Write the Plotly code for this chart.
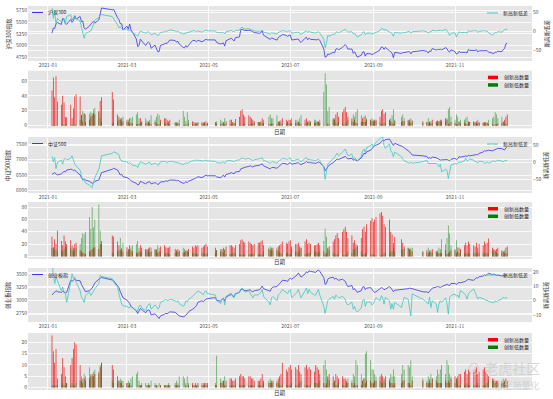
import pandas as pd
import plotly.graph_objects as go

# ---------------- calendar ----------------
HOLIDAYS = ["2021-02-11", "2021-02-12", "2021-02-15", "2021-02-16", "2021-02-17",
            "2021-04-05", "2021-05-03", "2021-05-04", "2021-05-05", "2021-06-14",
            "2021-09-20", "2021-09-21", "2021-10-01", "2021-10-04", "2021-10-05",
            "2021-10-06", "2021-10-07"]
trade_dates = [d for d in pd.bdate_range("2021-01-04", "2021-12-10")
               if d.strftime("%Y-%m-%d") not in HOLIDAYS]

tick_vals = ["2021-01-01", "2021-03-01", "2021-05-01", "2021-07-01", "2021-09-01", "2021-11-01"]
tick_text = ["2021-01", "2021-03", "2021-05", "2021-07", "2021-09", "2021-11"]

# ---------------- 沪深300 ----------------
hs300_close = [
    5267, 5376, 5368, 5465, 5495, 5454, 5587, 5553, 5472, 5458, 5563, 5497, 5534, 5642, 5569, 5625, 5512, 5528, 5380, 5351,
    5418, 5467, 5497, 5520, 5482, 5552, 5703, 5807, 5768, 5778, 5597, 5560, 5470, 5469, 5336,
    5418, 5353, 5462, 5337, 5297, 5142, 4978, 5001, 5140, 5102, 5000, 5052, 5077, 5051, 4942, 5011, 4954, 4869, 4872, 5003, 5036, 5052, 5048,
    5078, 5120, 5111, 5074, 5091, 5035, 4960, 4951, 5000, 4966, 5008, 5108, 5112, 5106, 5082, 5116, 5082, 5104, 5109, 5135, 5123,
    5122, 5066, 5034, 5046, 5060, 4990, 5105, 5147, 5155, 5130, 5100, 5168, 5188, 5338, 5351, 5341, 5321, 5331,
    5328, 5313, 5298, 5280, 5267, 5258, 5277, 5315, 5224, 5160, 5133, 5164, 5155, 5118, 5168, 5200, 5206, 5239, 5219, 5196, 5224,
    5227, 5121, 5132, 5125, 5141, 5094, 5069, 5158, 5179, 5125, 5162, 5135, 5123, 5115, 5124, 5138, 5117, 4929, 4751, 4763, 4821, 4811,
    4855, 4842, 4924, 4938, 4908, 4965, 5000, 5022, 4987, 4926, 4927, 4834, 4870, 4801, 4752, 4794, 4862, 4868, 4774, 4827, 4826, 4805,
    4824, 4845, 4845, 4907, 4970, 4966, 4919, 4962, 4889, 4871, 4833, 4741, 4855, 4832, 4851, 4849, 4869, 4870, 4823, 4866,
    4896, 4878, 4840, 4888, 4875, 4937, 4903, 4920, 4910, 4924, 4908, 4956, 4936, 4880, 4861, 4908,
    4874, 4819, 4828, 4879, 4855, 4866, 4858, 4843, 4917, 4898, 4898, 4895, 4914, 4865, 4889, 4897, 4903, 4890, 4893, 4860, 4843, 4832,
    4858, 4857, 4880, 4870, 4914, 4939, 5036, 5055]
hs300_diff = [
    62, 35, 55, 20, 35, 25, 30, 35, 20, 40, 45, 30, 38, 40, 35, 28, 12, -8, -17, -5,
    0, 2, 10, 20, 30, 38, 42, 45, 40, 35, 18, 10, 13, 8, 5,
    8, 2, 5, 0, -3, -8, -12, -5, 2, 0, -4, -2, 0, -3, -8, -4, -6, -10, -8, -2, 0, 2, 1,
    3, 5, 2, 0, 2, -2, -6, -5, -3, -4, -2, 2, 3, 1, 0, 2, -1, 1, 3, 4, 2,
    2, -2, -4, -3, -2, -6, 0, 2, 3, 1, 0, 3, 4, 10, 12, 9, 7, 8,
    6, 4, 3, 2, 1, 0, 2, 4, -1, -4, -6, -3, -4, -6, -2, 0, 1, 3, 1, 0, 2,
    3, -4, -2, -3, -1, -5, -7, 0, 2, -2, 1, -1, -3, -4, -2, 0, -3, -20, -42, -30, -10, -12,
    -6, -8, -2, 0, -3, 2, 4, 6, 3, -1, 0, -6, -4, -10, -14, -8, -2, 0, -8, -4, -4, -6,
    -4, -2, -2, 3, 8, 8, 4, 6, 0, -2, -5, -12, -2, -4, -2, -3, 0, 1, -4, 0,
    2, 0, -4, 0, -1, 4, 2, 3, 2, 4, 2, 6, 4, -5, -10, -4,
    -3, -14, -5, 0, -2, -1, -2, -4, 3, 1, 2, 2, 3, -2, 1, 2, 3, 1, 2, -3, -9, -6,
    -2, -3, 0, -1, 3, 5, 6, 6]
hs300_high = [
    47, 64, 38, 66, 32, 28, 40, 31, 12, 11, 28, 10, 23, 39, 42, 39, 14, 6, 16, 5,
    8, 12, 14, 17, 15, 20, 33, 38, 45, 35, 15, 12, 8, 10, 6,
    8, 5, 10, 4, 3, 2, 2, 3, 10, 5, 3, 4, 5, 4, 2, 5, 3, 2, 2, 8, 10, 10, 8,
    6, 8, 5, 3, 4, 2, 1, 1, 2, 1, 3, 6, 5, 4, 3, 5, 3, 4, 5, 6, 4,
    5, 3, 2, 3, 4, 2, 6, 8, 8, 5, 4, 9, 12, 20, 22, 15, 12, 14,
    12, 10, 8, 6, 5, 4, 6, 10, 4, 2, 2, 3, 3, 2, 5, 6, 7, 10, 8, 6, 8,
    8, 3, 4, 4, 5, 3, 2, 8, 10, 5, 7, 5, 4, 4, 5, 6, 4, 1, 0, 1, 3, 2,
    10, 8, 15, 18, 12, 18, 22, 25, 18, 12, 10, 5, 8, 4, 3, 5, 10, 12, 5, 8, 8, 6,
    6, 8, 8, 12, 20, 22, 16, 18, 8, 6, 4, 2, 6, 5, 6, 6, 8, 8, 4, 7,
    6, 5, 3, 5, 4, 8, 6, 7, 6, 8, 6, 10, 8, 3, 2, 5,
    4, 2, 2, 5, 3, 4, 3, 2, 6, 5, 5, 4, 6, 3, 4, 4, 5, 4, 4, 2, 2, 1,
    2, 2, 3, 3, 5, 8, 12, 15]
hs300_low = [
    1, 1, 1, 1, 1, 1, 2, 1, 1, 2, 1, 2, 1, 1, 2, 8, 15, 20, 17, 15,
    16, 19, 17, 22, 24, 18, 10, 5, 3, 4, 6, 8, 10, 6, 12,
    5, 8, 3, 10, 12, 15, 18, 10, 4, 6, 10, 7, 6, 8, 14, 8, 12, 16, 14, 5, 3, 3, 4,
    3, 2, 3, 5, 4, 8, 20, 12, 6, 18, 8, 2, 2, 3, 4, 3, 5, 4, 3, 2, 3,
    3, 6, 8, 6, 5, 10, 3, 2, 2, 3, 4, 2, 1, 1, 1, 2, 3, 2,
    2, 3, 3, 4, 5, 5, 4, 3, 8, 12, 15, 10, 10, 14, 6, 4, 3, 2, 3, 5, 3,
    3, 10, 8, 8, 6, 10, 14, 3, 3, 6, 4, 6, 8, 8, 6, 5, 8, 45, 70, 55, 20, 25,
    8, 10, 4, 3, 5, 3, 2, 2, 4, 8, 6, 15, 12, 18, 22, 14, 6, 5, 14, 10, 8, 10,
    8, 6, 6, 4, 2, 2, 4, 3, 8, 10, 14, 22, 8, 12, 15, 10, 6, 5, 10, 6,
    4, 5, 10, 6, 6, 3, 5, 4, 6, 5, 8, 6, 10, 22, 25, 12,
    8, 15, 12, 6, 8, 8, 10, 12, 4, 5, 6, 5, 3, 8, 5, 4, 3, 5, 4, 8, 10, 12,
    18, 15, 10, 12, 6, 4, 2, 2]

# ---------------- 中证500 ----------------
zz500_close = [
    6527, 6560, 6578, 6540, 6505, 6540, 6600, 6620, 6600, 6665, 6690, 6687, 6640, 6660, 6620, 6505, 6420, 6344, 6380, 6344,
    6300, 6280, 6237, 6250, 6300, 6344, 6500, 6578, 6690, 6719, 6665, 6600, 6505, 6530, 6450,
    6420, 6400, 6365, 6320, 6290, 6237, 6183, 6200, 6300, 6280, 6220, 6260, 6270, 6290, 6220, 6260, 6237, 6200, 6220, 6280, 6290, 6320, 6300,
    6330, 6344, 6340, 6320, 6344, 6300, 6237, 6250, 6290, 6260, 6300, 6344, 6360, 6397, 6420, 6450, 6420, 6440, 6460, 6500, 6480,
    6480, 6440, 6420, 6460, 6500, 6440, 6520, 6560, 6580, 6560, 6540, 6600, 6620, 6700, 6720, 6740, 6750, 6780,
    6800, 6780, 6760, 6790, 6800, 6820, 6840, 6860, 6800, 6720, 6700, 6740, 6750, 6720, 6760, 6800, 6820, 6880, 6860, 6840, 6880,
    6900, 6850, 6870, 6880, 6900, 6860, 6840, 6900, 6940, 6900, 6920, 6900, 6880, 6880, 6900, 6920, 6900, 6780, 6640, 6700, 6800, 6820,
    6900, 6950, 7000, 7020, 7000, 7050, 7080, 7100, 7060, 7020, 7040, 6980, 7000, 6980, 6960, 7050, 7150, 7200, 7180, 7250, 7300, 7350,
    7400, 7450, 7460, 7521, 7580, 7620, 7600, 7640, 7660, 7600, 7550, 7450, 7521, 7450, 7413, 7380, 7300, 7253, 7200, 7147,
    7120, 7100, 7040, 7060, 7040, 7080, 7060, 7040, 7000, 6986, 6990, 7008, 7000, 6980, 6960, 7008,
    7040, 7000, 7020, 7092, 7080, 7100, 7120, 7100, 7140, 7120, 7150, 7147, 7160, 7150, 7200, 7240, 7285, 7270, 7290, 7300, 7280, 7300,
    7320, 7330, 7362, 7350, 7340, 7307, 7380, 7413]
zz500_diff = [
    19, 2, 15, -18, 0, 7, -5, 10, 12, 8, 12, 20, 8, -5, -10, -23, -40, -53, -50, -61,
    -68, -72, -75, -60, -45, -20, 7, 20, 27, 32, 27, 22, 8, 5, 3,
    2, -3, 0, -5, -8, -10, -15, -5, 2, 0, -5, -2, 0, 1, -6, -2, -4, -8, -6, 2, 3, 2, 0,
    2, 3, 1, 0, 1, -2, -6, -4, -1, -3, 0, 5, 4, 8, 6, 7, 3, 4, 6, 7, 5,
    3, 0, -2, 0, 2, -3, 4, 6, 6, 4, 2, 6, 8, 12, 14, 12, 10, 12,
    10, 8, 6, 8, 10, 10, 12, 14, 6, 0, -3, 2, 2, -2, 4, 6, 8, 12, 10, 8, 12,
    14, 4, 8, 8, 10, 5, 2, 12, 15, 8, 10, 8, 6, 6, 8, 10, 6, -15, -50, -25, -5, 0,
    10, 15, 22, 28, 20, 30, 35, 40, 30, 20, 25, 10, 15, 8, 5, 18, 35, 40, 30, 45, 50, 55,
    45, 55, 60, 72, 76, 76, 51, 42, 56, 35, 30, 17, 31, 17, 10, 5, 0, -3, 2, -2,
    2, 7, -3, -3, -5, -3, -3, -8, -13, -5, -28, -20, -23, -48, -23, -8,
    -3, -5, -3, 2, 0, 5, 12, 5, 7, 10, 7, 2, 3, -2, 4, 2, -3, 0, 2, -2, 3, 5,
    2, 5, 7, 4, 2, 5, 6, 7]
zz500_high = [
    32, 15, 28, 20, 42, 25, 18, 34, 24, 20, 26, 18, 14, 20, 22, 10, 8, 6, 5, 4,
    8, 10, 12, 14, 15, 12, 20, 25, 34, 32, 24, 18, 10, 12, 8,
    15, 12, 18, 10, 8, 6, 5, 8, 18, 14, 10, 12, 13, 15, 8, 12, 10, 6, 8, 16, 18, 15, 14,
    14, 16, 12, 10, 12, 8, 6, 7, 10, 8, 12, 16, 14, 18, 16, 18, 14, 16, 18, 20, 16,
    14, 10, 8, 12, 14, 10, 16, 18, 18, 16, 14, 18, 20, 26, 28, 24, 22, 24,
    22, 20, 18, 20, 22, 22, 24, 26, 18, 12, 10, 14, 14, 10, 16, 18, 20, 24, 22, 20, 24,
    26, 16, 20, 20, 22, 16, 14, 24, 28, 20, 22, 20, 18, 18, 20, 22, 18, 8, 4, 6, 14, 16,
    24, 28, 34, 38, 30, 40, 44, 48, 40, 30, 34, 22, 26, 20, 18, 30, 44, 48, 40, 52, 58, 62,
    56, 60, 64, 70, 72, 66, 52, 48, 60, 40, 36, 22, 32, 28, 22, 16, 14, 12, 10, 8,
    8, 10, 6, 8, 7, 12, 8, 6, 5, 6, 5, 10, 4, 6, 8, 10,
    10, 6, 8, 14, 12, 18, 22, 18, 24, 20, 18, 16, 22, 14, 20, 18, 24, 20, 22, 29, 14, 12,
    10, 12, 14, 10, 8, 6, 14, 16]
zz500_low = [
    14, 14, 10, 12, 8, 10, 8, 12, 15, 16, 14, 10, 8, 12, 14, 20, 30, 38, 36, 40,
    64, 45, 80, 47, 60, 84, 42, 20, 6, 5, 8, 10, 30, 14, 22,
    8, 10, 12, 15, 18, 20, 25, 14, 6, 8, 12, 10, 8, 6, 14, 10, 12, 18, 14, 6, 4, 5, 6,
    5, 4, 6, 8, 7, 10, 14, 12, 8, 10, 8, 5, 6, 4, 5, 4, 6, 5, 4, 4, 5,
    6, 10, 12, 8, 6, 12, 4, 4, 4, 5, 6, 4, 3, 3, 2, 3, 4, 3,
    4, 4, 5, 4, 4, 3, 3, 3, 8, 14, 16, 10, 10, 14, 8, 6, 5, 4, 5, 6, 4,
    4, 12, 8, 8, 6, 10, 14, 4, 3, 6, 5, 6, 8, 8, 6, 5, 8, 25, 45, 32, 12, 10,
    6, 4, 3, 3, 4, 3, 2, 2, 4, 8, 6, 12, 10, 14, 16, 8, 4, 3, 6, 4, 3, 3,
    3, 2, 2, 2, 2, 3, 5, 6, 4, 8, 8, 14, 8, 10, 12, 12, 14, 12, 14, 14,
    8, 6, 14, 10, 10, 6, 8, 10, 14, 12, 28, 20, 30, 50, 37, 18,
    12, 26, 15, 5, 8, 5, 4, 6, 4, 5, 6, 5, 4, 8, 5, 6, 4, 6, 5, 4, 8, 10,
    8, 6, 5, 6, 8, 10, 5, 6]

# ---------------- 创业板指 ----------------
cyb_close = [
    3099, 3130, 3140, 3180, 3162, 3150, 3170, 3162, 3140, 3150, 3380, 3360, 3385, 3400, 3380, 3370, 3300, 3250, 3200, 3162,
    3180, 3200, 3230, 3280, 3330, 3400, 3420, 3433, 3385, 3370, 3272, 3240, 3162, 3100, 3050,
    3000, 2970, 2937, 2880, 2860, 2800, 2746, 2790, 2842, 2820, 2760, 2800, 2810, 2800, 2720, 2740, 2700, 2682, 2650, 2700, 2730, 2750, 2740,
    2760, 2778, 2770, 2740, 2720, 2700, 2682, 2690, 2720, 2740, 2780, 2820, 2845, 2870, 2900, 2960, 2990, 2970, 3000, 3020, 3030,
    3050, 3000, 2980, 3010, 3040, 2980, 3060, 3100, 3110, 3080, 3070, 3120, 3150, 3200, 3210, 3200, 3180, 3190,
    3200, 3170, 3160, 3180, 3190, 3200, 3230, 3270, 3220, 3180, 3170, 3230, 3250, 3260, 3300, 3320, 3340, 3380, 3370, 3360, 3400,
    3420, 3400, 3450, 3480, 3520, 3480, 3440, 3500, 3540, 3520, 3560, 3550, 3540, 3530, 3560, 3576, 3550, 3430, 3300, 3320, 3400, 3420,
    3440, 3400, 3420, 3400, 3380, 3400, 3380, 3360, 3300, 3260, 3280, 3200, 3220, 3180, 3150, 3180, 3250, 3260, 3200, 3230, 3240, 3200,
    3180, 3150, 3160, 3223, 3240, 3230, 3200, 3210, 3258, 3240, 3200, 3160, 3190, 3195, 3200, 3210, 3220, 3230, 3223, 3220,
    3160, 3158, 3140, 3170, 3200, 3230, 3250, 3260, 3254, 3240, 3260, 3280, 3300, 3290, 3280, 3318,
    3320, 3300, 3320, 3340, 3330, 3350, 3360, 3385, 3400, 3390, 3380, 3400, 3430, 3420, 3448, 3460, 3480, 3470, 3500, 3513, 3490, 3500,
    3490, 3470, 3480, 3460, 3470, 3460, 3480, 3470]
cyb_diff = [
    25.7, 19, 12, 16.7, 14, 7, 9.5, 6, 4.8, -1.2, 13, 19, 15.5, 16.7, 13, 7, 2.4, 1.2, -1.2, 3.6,
    6, 3.6, 5, 7, 8.3, 12, 18, 17, 15.5, 13, 9.5, 4.8, 1.2, -2.4, -3.6,
    -4, -4.8, -4.8, -3.6, -5, -7, -7.1, -4, -3, -5, -7, -4, -3, -2, -6, -3, -4, -6, -5, -1, 0, 1, 0,
    0, 1, 0, -1, 0, -2, -4, -3, 0, -1, 1, 3, 4, 5, 6, 7, 5, 4, 6, 7, 5,
    4, 0, -2, 1, 2, -3, 3, 5, 5, 3, 2, 5, 6, 8, 9, 7, 6, 7,
    5, 3, 2, 4, 4, 5, 6, 8, 3, -1, -3, 2, 3, 0, 4, 5, 6, 8, 6, 5, 7,
    8, 2, 5, 6, 8, 4, 2, 7, 9, 5, 8, 6, 4, 4, 6, 8, 4, -4, -9, -5, 0, 1,
    3, 1, 4, 3, 2, 3, 2, 1, -2, -3, -1, -6, -4, -7, -8, -5, 0, 1, -4, -1, -1, -3,
    -2, 0, 2, 0, 3.6, 2, -2.4, 2.4, 0, -6, -2, -6, -1.2, -4.8, -1.2, 2.4, 1, -6, -10.7, 4.8,
    1, -1.2, -2.4, 2.4, -4.8, 0, -2.4, -8.3, -2.4, 0, -1.2, 2, -2, -9.5, 2.4, 3.6,
    4.8, 3, 4, 2, 7.1, 5, 3.6, 1.2, 4.8, 6, 8.3, 6, 4, 1.2, 2.4, 1.2, 1.2, 0, 0.5, -0.5, -1.2, -1.5,
    0, -1, 0, 1.2, 2.4, 1.9, 2, 1.9]
cyb_high = [
    23, 16, 11, 17, 4, 6, 13, 9, 5, 2, 10, 13, 17, 20, 19, 10, 3, 2, 4, 3,
    4, 5, 6, 5, 6, 7, 9, 11, 10, 8, 5, 3, 2, 3, 1,
    2, 1, 2, 1, 0, 0, 0, 1, 1, 1, 0, 1, 1, 1, 0, 1, 1, 0, 0, 1, 1, 1, 1,
    1, 1, 1, 1, 1, 1, 0, 0, 1, 0, 1, 2, 1, 2, 1, 2, 1, 1, 2, 2, 2,
    1, 1, 2, 2, 3, 1, 3, 4, 4, 3, 3, 4, 5, 6, 5, 5, 4, 5,
    5, 4, 4, 3, 3, 3, 4, 6, 3, 2, 2, 3, 3, 2, 4, 5, 6, 11, 8, 7, 9,
    10, 8, 9, 8, 10, 7, 6, 9, 10, 8, 9, 8, 7, 10, 9, 8, 6, 2, 1, 2, 5, 6,
    5, 3, 6, 5, 4, 5, 4, 4, 3, 2, 2, 1, 2, 1, 1, 1, 3, 4, 2, 3, 3, 2,
    2, 3, 3, 5, 6, 5, 4, 5, 3, 2, 2, 1, 2, 2, 3, 3, 2, 2, 1, 3,
    3, 2, 2, 3, 2, 4, 3, 2, 2, 2, 2, 3, 2, 3, 2, 4,
    5, 4, 5, 6, 6, 7, 8, 6, 8, 7, 7, 8, 9, 6, 7, 8, 9, 7, 6, 5, 4, 3,
    2, 3, 3, 2, 2, 3, 4, 3]
cyb_low = [
    1, 1, 1, 1, 1, 1, 2, 1, 1, 2, 1, 2, 1, 1, 2, 3, 5, 4, 6, 5,
    9, 6, 5, 7, 8, 6, 10, 11, 3, 2, 2, 3, 4, 2, 3,
    2, 3, 2, 4, 5, 6, 7, 3, 1, 2, 2, 1, 2, 1, 3, 2, 1, 1, 2, 1, 1, 1, 1,
    2, 1, 2, 3, 2, 5, 5, 4, 2, 5, 2, 1, 1, 1, 1, 1, 2, 2, 1, 1, 1,
    2, 14, 4, 3, 3, 5, 1, 1, 1, 1, 1, 1, 1, 1, 1, 1, 1, 1,
    1, 1, 1, 1, 1, 1, 1, 1, 2, 3, 4, 2, 2, 3, 2, 1, 1, 1, 1, 1, 1,
    1, 2, 1, 1, 1, 2, 3, 1, 1, 1, 1, 1, 2, 2, 2, 1, 3, 10, 12, 8, 4, 3,
    2, 3, 1, 1, 2, 1, 1, 1, 2, 4, 3, 6, 5, 12, 10, 6, 3, 4, 15, 16, 12, 8,
    8, 6, 5, 3, 2, 2, 3, 2, 4, 6, 5, 8, 5, 6, 10, 8, 10, 9, 12, 5,
    4, 3, 5, 4, 6, 4, 5, 8, 6, 8, 10, 6, 12, 10, 6, 5,
    2, 4, 3, 1, 1, 1, 1, 2, 1, 1, 1, 1, 1, 2, 1, 1, 1, 1, 2, 3, 3, 4,
    3, 2, 2, 3, 4, 3, 1, 1]

N = len(trade_dates)
for _s in [hs300_close, hs300_diff, hs300_high, hs300_low, zz500_close, zz500_diff, zz500_high,
           zz500_low, cyb_close, cyb_diff, cyb_high, cyb_low]:
    assert len(_s) == N, (len(_s), N)

# ---------------- styling ----------------
W, H = 553, 399
FONT = "Noto Sans CJK SC, DejaVu Sans, sans-serif"
BLUE = "rgb(55,55,228)"
TEAL = "rgb(64,200,190)"
RED = "rgb(240,0,0)"
GREEN = "rgb(0,128,0)"
BG = "#E5E5E5"
X_RANGE = ["2020-12-17 02:00", "2021-12-28 12:00"]
PX_L, PX_R = 28, 532
BAR_W = 0.55 * 86400000
TXT = "#222222"


def ydom(top, bottom):
    return [1 - bottom / H, 1 - top / H]


def py(p):
    return 1 - p / H


def px(p):
    return p / W


xdom = [px(PX_L), px(PX_R)]
tickfont = dict(size=5, color="#555555", family=FONT)

line_panels = [
    # (top, bottom, close, diff, name, ytitle, yrange, yticks, rrange, rticks)
    (6, 61, hs300_close, hs300_diff, "沪深300", "沪深300指数", [4670, 5850], [4750, 5000, 5250, 5500, 5750],
     [-77, 67.6], [-50, 0, 50]),
    (137, 193, zz500_close, zz500_diff, "中证500", "中证500指数", [5926, 7725], [6000, 6500, 7000, 7500],
     [-91, 76], [-50, 0, 50]),
    (268, 322, cyb_close, cyb_diff, "创业板指", "创业板指数", [2584, 3614], [2750, 3000, 3250, 3500],
     [-15, 23], [-10, 0, 10, 20]),
]
bar_panels = [
    (70.7, 128.3, hs300_high, hs300_low, [-3.5, 73.5], [0, 20, 40, 60]),
    (202, 259, zz500_high, zz500_low, [-4.2, 88.2], [0, 20, 40, 60, 80]),
    (333, 390, cyb_high, cyb_low, [-1.15, 24.15], [0, 5, 10, 15, 20]),
]

fig = go.Figure()
annotations = []
shapes = []
layout = dict(width=W, height=H, margin=dict(l=0, r=0, t=0, b=0), paper_bgcolor="white",
              plot_bgcolor=BG, barmode="overlay", showlegend=False, hovermode=False,
              font=dict(family=FONT, size=5, color="#333333"))


def line_legend(x0, x1, y, color, text):
    shapes.append(dict(type="line", xref="paper", yref="paper", x0=px(x0), x1=px(x1), y0=py(y), y1=py(y),
                       line=dict(color=color, width=1)))
    annotations.append(dict(text=text, x=px(x1 + 3), y=py(y), xref="paper", yref="paper", xanchor="left",
                            yanchor="middle", showarrow=False, font=dict(size=5, color=TXT)))


def patch_legend(x0, x1, y0, y1, color, text):
    shapes.append(dict(type="rect", xref="paper", yref="paper", x0=px(x0), x1=px(x1), y0=py(y1), y1=py(y0),
                       fillcolor=color, line=dict(width=0)))
    annotations.append(dict(text=text, x=px(x1 + 4), y=py((y0 + y1) / 2), xref="paper", yref="paper",
                            xanchor="left", yanchor="middle", showarrow=False, font=dict(size=5, color=TXT)))


axis_idx = 0
yaxis_idx = 0
for p in range(3):
    # ---------------- line panel ----------------
    top, bot, close, diff, name, ytitle, yr, yt, rr, rt = line_panels[p]
    axis_idx += 1
    xa = f"x{axis_idx if axis_idx > 1 else ''}"
    yaxis_idx += 1
    ya_left = yaxis_idx
    yaxis_idx += 1
    ya_right = yaxis_idx
    yl_ref = f"y{ya_left if ya_left > 1 else ''}"

    fig.add_trace(go.Scatter(x=trade_dates, y=close, mode="lines", name=name,
                             line=dict(color=BLUE, width=0.8), xaxis=xa, yaxis=yl_ref))
    fig.add_trace(go.Scatter(x=trade_dates, y=diff, mode="lines", name="新高新低差",
                             line=dict(color=TEAL, width=0.8), xaxis=xa, yaxis=f"y{ya_right}"))
    xkey = "xaxis" if axis_idx == 1 else f"xaxis{axis_idx}"
    layout[xkey] = dict(domain=xdom, anchor=yl_ref, type="date",
                        range=X_RANGE, tickvals=tick_vals, ticktext=tick_text, tickfont=tickfont,
                        showgrid=True, gridcolor="white", gridwidth=0.8, zeroline=False,
                        showline=False, ticks="")
    ykey_l = "yaxis" if ya_left == 1 else f"yaxis{ya_left}"
    layout[ykey_l] = dict(domain=ydom(top, bot), anchor=xa, range=yr, tickvals=yt, tickfont=tickfont,
                          showgrid=True, gridcolor="white", gridwidth=0.8, zeroline=False, ticks="")
    layout[f"yaxis{ya_right}"] = dict(overlaying=yl_ref, anchor=xa,
                                      side="right", range=rr, tickvals=rt, tickfont=tickfont,
                                      showgrid=True, gridcolor="white", gridwidth=0.8,
                                      zeroline=False, ticks="")
    line_legend(32, 43, top + 6.5, BLUE, name)
    line_legend(487, 498, top + 7, TEAL, "新高新低差")
    annotations.append(dict(text=ytitle, x=px(8), y=py((top + bot) / 2), xref="paper",
                            yref="paper", xanchor="center", yanchor="middle", showarrow=False,
                            textangle=-90, font=dict(size=5.5, color="#333333")))
    annotations.append(dict(text="新高新低差", x=px(546), y=py((top + bot) / 2),
                            xref="paper", yref="paper", xanchor="center", yanchor="middle",
                            showarrow=False, textangle=-90, font=dict(size=5.5, color="#333333")))

    # ---------------- bar panel ----------------
    top, bot, highs, lows, br, bt = bar_panels[p]
    axis_idx += 1
    xa = f"x{axis_idx}"
    yaxis_idx += 1
    yb = yaxis_idx
    fig.add_trace(go.Bar(x=trade_dates, y=highs, name="创新高数量", marker=dict(color=RED, line_width=0),
                         opacity=0.85, width=BAR_W, xaxis=xa, yaxis=f"y{yb}"))
    fig.add_trace(go.Bar(x=trade_dates, y=lows, name="创新低数量", marker=dict(color=GREEN, line_width=0),
                         opacity=0.62, width=BAR_W, xaxis=xa, yaxis=f"y{yb}"))
    layout[f"xaxis{axis_idx}"] = dict(domain=xdom, anchor=f"y{yb}", type="date", range=X_RANGE,
                                      tickvals=tick_vals, showticklabels=False, showgrid=True,
                                      gridcolor="white", gridwidth=0.8, zeroline=False, ticks="")
    layout[f"yaxis{yb}"] = dict(domain=ydom(top, bot), anchor=xa, range=br, tickvals=bt,
                                tickfont=tickfont, showgrid=True, gridcolor="white", gridwidth=0.8,
                                zeroline=False, ticks="")
    patch_legend(488, 498, top + 5, top + 8.5, "rgb(255,0,0)", "创新高数量")
    patch_legend(488, 498, top + 12.5, top + 16, GREEN, "创新低数量")
    annotations.append(dict(text="日期", x=px((PX_L + PX_R) / 2), y=py(bot + 3.2),
                            xref="paper", yref="paper", xanchor="center", yanchor="middle",
                            showarrow=False, font=dict(size=5.5, color="#333333")))

# watermark
annotations.append(dict(text="⊘ 老虎社区", x=px(542), y=py(368), xref="paper", yref="paper",
                        xanchor="right", yanchor="middle", showarrow=False,
                        font=dict(size=14, color="rgba(200,200,200,0.7)")))
annotations.append(dict(text="@至简量化", x=px(542), y=py(385), xref="paper", yref="paper",
                        xanchor="right", yanchor="middle", showarrow=False,
                        font=dict(size=9, color="rgba(200,200,200,0.7)")))

layout["annotations"] = annotations
layout["shapes"] = shapes
fig.update_layout(**layout)
fig.write_html("out.html", config={"displayModeBar": False, "staticPlot": True},
               post_script="document.body.style.margin='0px';")
